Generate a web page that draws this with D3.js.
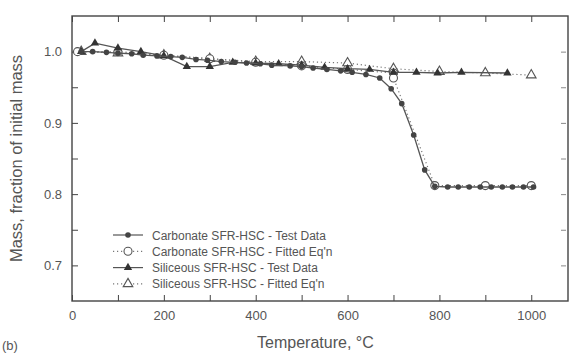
<!DOCTYPE html>
<html>
<head>
<meta charset="utf-8">
<script src="https://cdn.jsdelivr.net/npm/d3@7"></script>
<style>
  body { margin: 0; background: #fff; }
  text { font-family: "Liberation Sans", Arial, sans-serif; fill: #555; }
</style>
</head>
<body>
<div id="chart"></div>
<script>
// Carbonate SFR-HSC - test data
var carbTestT = [20, 45, 75, 100, 130, 155, 185, 215, 240, 270, 295, 325, 355, 380, 410, 435, 475, 500, 525, 555, 585, 610, 640, 670, 695, 718, 744, 768, 790, 818, 841, 865, 889, 913, 937, 959, 983, 1005];
var carbTestM = [1.0, 1.0, 0.999, 0.998, 0.997, 0.995, 0.994, 0.993, 0.992, 0.989, 0.988, 0.986, 0.985, 0.984, 0.983, 0.981, 0.980, 0.979, 0.977, 0.975, 0.973, 0.971, 0.968, 0.963, 0.948, 0.927, 0.883, 0.834, 0.811, 0.81, 0.81, 0.81, 0.81, 0.81, 0.81, 0.81, 0.81, 0.81];
// Carbonate SFR-HSC - fitted eq'n
var carbFitT = [12, 100, 200, 300, 400, 500, 600, 700, 700, 790, 900, 1000];
var carbFitM = [1.0, 1.0, 0.995, 0.99, 0.985, 0.98, 0.975, 0.97, 0.963, 0.812, 0.812, 0.812];
// Siliceous SFR-HSC - test data
var silTestT = [20, 50, 100, 150, 200, 250, 300, 350, 400, 450, 500, 550, 600, 648, 700, 750, 796, 848, 948];
var silTestM = [1.0, 1.012, 1.005, 1.0, 0.994, 0.979, 0.979, 0.985, 0.984, 0.983, 0.981, 0.978, 0.976, 0.975, 0.971, 0.971, 0.97, 0.971, 0.97];
// Siliceous SFR-HSC - fitted eq'n
var silFitT = [20, 100, 200, 300, 400, 500, 600, 700, 800, 900, 1000];
var silFitM = [1.0, 0.998, 0.995, 0.99, 0.986, 0.986, 0.984, 0.976, 0.972, 0.97, 0.967];

var legendLabels = ["Carbonate SFR-HSC - Test Data", "Carbonate SFR-HSC - Fitted Eq'n",
                    "Siliceous SFR-HSC - Test Data", "Siliceous SFR-HSC - Fitted Eq'n"];
var xTickValues = [0, 200, 400, 600, 800, 1000];
var yTickValues = [0.7, 0.8, 0.9, 1.0];

var W = 569, H = 353;
var margin = { top: 16, right: 1, bottom: 52, left: 72 };
var width = W - margin.left - margin.right,
    height = H - margin.top - margin.bottom;
var ink = "#444";

var svg = d3.select("#chart").append("svg")
    .attr("width", W)
    .attr("height", H);

var g = svg.append("g")
    .attr("transform", "translate(" + margin.left + "," + margin.top + ")");

var x = d3.scaleLinear().domain([0, 1080]).range([0, width]);
var y = d3.scaleLinear().domain([0.65, 1.05]).range([height, 0]);

//frame
g.append("rect")
    .attr("width", width).attr("height", height)
    .attr("fill", "none").attr("stroke", ink).attr("stroke-width", 1.4);

//axes, ticks pointing inward
var xMinor = d3.range(0, 1001, 100);
var yMinor = d3.range(0.7, 1.0001, 0.05);

g.append("g").attr("transform", "translate(0," + height + ")")
    .call(d3.axisBottom(x).tickValues(xMinor).tickSize(-6).tickFormat(""))
    .call(function (a) { a.select(".domain").remove(); a.selectAll("line").attr("stroke", ink); });
g.append("g")
    .call(d3.axisTop(x).tickValues(xMinor).tickSize(-6).tickFormat(""))
    .call(function (a) { a.select(".domain").remove(); a.selectAll("line").attr("stroke", ink); });
g.append("g")
    .call(d3.axisLeft(y).tickValues(yMinor).tickSize(-6).tickFormat(""))
    .call(function (a) { a.select(".domain").remove(); a.selectAll("line").attr("stroke", ink); });
g.append("g").attr("transform", "translate(" + (width - 2) + ",0)")
    .call(d3.axisRight(y).tickValues(yMinor).tickSize(-5).tickFormat(""))
    .call(function (a) { a.select(".domain").remove(); a.selectAll("line").attr("stroke", "#888"); });

//tick labels
g.append("g").attr("transform", "translate(0," + height + ")")
    .call(d3.axisBottom(x).tickValues(xTickValues).tickSize(0).tickPadding(10).tickFormat(d3.format("d")))
    .call(function (a) {
        a.select(".domain").remove();
        a.selectAll("text").attr("font-size", 13).attr("fill", "#666").attr("font-family", null);
    });
g.append("g")
    .call(d3.axisLeft(y).tickValues(yTickValues).tickSize(0).tickPadding(10).tickFormat(d3.format(".1f")))
    .call(function (a) {
        a.select(".domain").remove();
        a.selectAll("text").attr("font-size", 13).attr("fill", "#666").attr("font-family", null);
    });

//axis titles
svg.append("text")
    .attr("x", margin.left + x(530)).attr("y", 348)
    .attr("text-anchor", "middle").attr("font-size", 16).attr("fill", "#555")
    .text("Temperature, °C");
svg.append("text")
    .attr("transform", "translate(22," + (margin.top + y(0.85)) + ") rotate(-90)")
    .attr("text-anchor", "middle").attr("font-size", 16.5).attr("fill", "#555")
    .text("Mass, fraction of initial mass");
svg.append("text")
    .attr("x", 2).attr("y", 350).attr("font-size", 13).attr("fill", "#555")
    .text("(b)");

function pts(T, M) {
    return T.map(function (t, i) { return { t: t, m: M[i] }; });
}

var line = d3.line()
    .x(function (d) { return x(d.t); })
    .y(function (d) { return y(d.m); });

var carbTest = pts(carbTestT, carbTestM),
    carbFit = pts(carbFitT, carbFitM),
    silTest = pts(silTestT, silTestM),
    silFit = pts(silFitT, silFitM);

var tri = d3.symbol().type(d3.symbolTriangle);

function drawSeries(data, dashed, marker) {
    var s = g.append("g");
    s.append("path")
        .datum(data)
        .attr("d", line)
        .attr("fill", "none")
        .attr("stroke", dashed ? "#777" : "#555")
        .attr("stroke-width", dashed ? 1.2 : 1.3)
        .attr("stroke-dasharray", dashed ? "1.2,2.8" : null);
    drawMarkers(s.selectAll(".m").data(data).enter(), marker);
}

function drawMarkers(sel, marker) {
    if (marker == "dot") {
        sel.append("circle")
            .attr("cx", function (d) { return x(d.t); })
            .attr("cy", function (d) { return y(d.m); })
            .attr("r", 2.8).attr("fill", "#444");
    } else if (marker == "ring") {
        sel.append("circle")
            .attr("cx", function (d) { return x(d.t); })
            .attr("cy", function (d) { return y(d.m); })
            .attr("r", 4).attr("fill", "#fff").attr("stroke", "#555").attr("stroke-width", 1.1);
    } else if (marker == "tri") {
        sel.append("path")
            .attr("d", tri.size(30))
            .attr("transform", function (d) { return "translate(" + x(d.t) + "," + y(d.m) + ")"; })
            .attr("fill", "#333");
    } else {
        sel.append("path")
            .attr("d", tri.size(40))
            .attr("transform", function (d) { return "translate(" + x(d.t) + "," + y(d.m) + ")"; })
            .attr("fill", "#fff").attr("stroke", "#555").attr("stroke-width", 1.1);
    }
}

drawSeries(silFit, true, "otri");
drawSeries(carbFit, true, "ring");
drawSeries(silTest, false, "tri");
drawSeries(carbTest, false, "dot");

//legend
var markers = ["dot", "ring", "tri", "otri"];
var legend = svg.append("g").attr("transform", "translate(113,235)");
legendLabels.forEach(function (lab, i) {
    var row = legend.append("g").attr("transform", "translate(0," + (i * 16.3) + ")");
    var dashed = (i % 2 == 1);
    row.append("line")
        .attr("x1", 0).attr("x2", 30)
        .attr("stroke", dashed ? "#777" : "#555").attr("stroke-width", 1.2)
        .attr("stroke-dasharray", dashed ? "1.2,2.8" : null);
    var mk = row.append("g").attr("transform", "translate(" + (15 - x(0)) + "," + (-y(0)) + ")");
    drawMarkers(mk.selectAll(".m").data([{ t: 0, m: 0 }]).enter(), markers[i]);
    row.append("text")
        .attr("x", 39).attr("y", 4.5)
        .attr("font-size", 12).attr("fill", "#555")
        .text(lab);
});
</script>
</body>
</html>
